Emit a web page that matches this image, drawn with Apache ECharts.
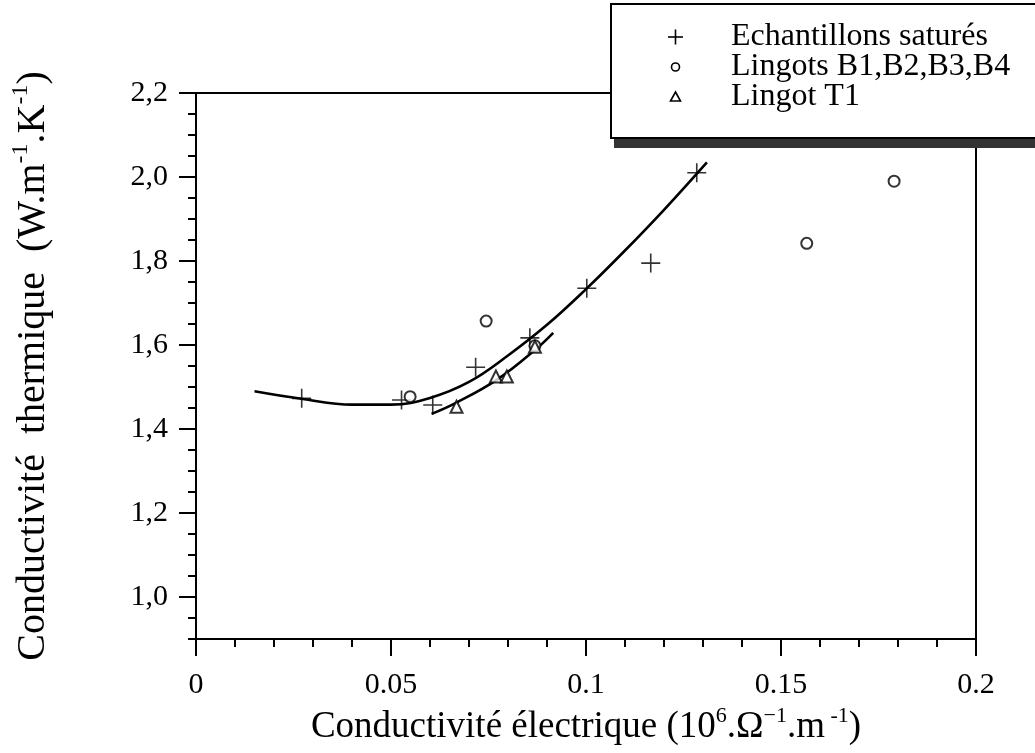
<!DOCTYPE html>
<html><head><meta charset="utf-8">
<script src="https://cdn.jsdelivr.net/npm/echarts@6/dist/echarts.min.js"></script>
<style>html,body{margin:0;padding:0;background:#fff}#c{width:1035px;height:753px}</style>
</head><body><div id="c"></div>
<script>
// ---- data ----
const seriesNames = ['Echantillons saturés', 'Lingots B1,B2,B3,B4', 'Lingot T1'];
const satuX = [0.0271, 0.0527, 0.0607, 0.0717, 0.0856, 0.1002, 0.1166, 0.1284];
const satuY = [1.473, 1.469, 1.457, 1.547, 1.617, 1.735, 1.795, 2.010];
const lingBX = [0.0549, 0.0744, 0.0869, 0.1566, 0.1790];
const lingBY = [1.477, 1.657, 1.598, 1.842, 1.990];
const lingTX = [0.0668, 0.0769, 0.0797, 0.0869];
const lingTY = [1.453, 1.525, 1.525, 1.596];
// fitted curves (traced)
const fitSatuX = [0.015, 0.027, 0.040, 0.050, 0.060, 0.070, 0.080, 0.090, 0.100, 0.110, 0.120, 0.131];
const fitSatuY = [1.490, 1.472, 1.458, 1.458, 1.474, 1.512, 1.575, 1.648, 1.733, 1.825, 1.922, 2.035];
const fitTX = [0.0604, 0.0668, 0.0771, 0.0869, 0.0916];
const fitTY = [1.436, 1.463, 1.517, 1.588, 1.629];
// ticks
const yLabelTicks = [1.0, 1.2, 1.4, 1.6, 1.8, 2.0, 2.2];
const yMinorTicks = [0.9,0.95,1.0,1.05,1.1,1.15,1.2,1.25,1.3,1.35,1.4,1.45,1.5,1.55,1.6,1.65,1.7,1.75,1.8,1.85,1.9,1.95,2.0,2.05,2.1,2.15,2.2];

const zip = (a, b) => a.map((v, i) => [v, b[i]]);
const FONT = 'Liberation Serif';
const black = '#000';

const chart = echarts.init(document.getElementById('c'), null, {renderer: 'canvas'});

const xN = {fontFamily: FONT, fontSize: 37, lineHeight: 44, color: black};
const xS = {fontFamily: FONT, fontSize: 22, lineHeight: 26, verticalAlign: 'top', color: black};
const yN = {fontFamily: FONT, fontSize: 40, lineHeight: 48, color: black};
const yS = {fontFamily: FONT, fontSize: 24, lineHeight: 28, verticalAlign: 'top', color: black};

const option = {
  backgroundColor: '#fff',
  animation: false,
  grid: {left: 196, right: 59, top: 93, bottom: 114, show: true, borderColor: black, borderWidth: 2, backgroundColor: 'transparent'},
  xAxis: {
    type: 'value', min: 0, max: 0.2, interval: 0.05,
    name: '{n|Conductivité électrique (10}{s|6}{n|.Ω}{s|−1}{n|.m}{s| -1}{n|)}',
    nameLocation: 'middle', nameGap: 64,
    nameTextStyle: {rich: {n: xN, s: xS}},
    axisLine: {lineStyle: {color: black, width: 2}},
    axisTick: {length: 17, lineStyle: {color: black, width: 2}},
    minorTick: {show: true, splitNumber: 5, length: 8, lineStyle: {color: black, width: 2}},
    axisLabel: {color: black, fontFamily: FONT, fontSize: 30, margin: 31},
    splitLine: {show: false}
  },
  yAxis: [{
    type: 'value', min: 0.9, max: 2.2,
    name: '{n|Conductivité  thermique  (W.m}{s|-1}{n|.K}{s|-1}{n|)}',
    nameLocation: 'middle', nameRotate: 90, nameGap: 139,
    nameTextStyle: {rich: {n: yN, s: yS}},
    axisLine: {lineStyle: {color: black, width: 2}},
    axisTick: {customValues: yLabelTicks, length: 17, lineStyle: {color: black, width: 2}},
    axisLabel: {customValues: yLabelTicks, color: black, fontFamily: FONT, fontSize: 30, margin: 28,
      formatter: v => v.toFixed(1).replace('.', ',')},
    splitLine: {show: false}
  }, {
    type: 'value', min: 0.9, max: 2.2, position: 'left',
    axisLine: {show: false},
    axisTick: {customValues: yMinorTicks, length: 8, lineStyle: {color: black, width: 2}},
    axisLabel: {show: false},
    splitLine: {show: false}
  }],
  series: [
    {type: 'line', data: zip(fitSatuX, fitSatuY), smooth: 0.4, showSymbol: false, symbol: 'none',
      lineStyle: {color: black, width: 2.6}, silent: true, z: 2},
    {type: 'line', data: zip(fitTX, fitTY), smooth: 0.4, showSymbol: false, symbol: 'none',
      lineStyle: {color: black, width: 2.6}, silent: true, z: 2},
    {name: seriesNames[0], type: 'scatter', data: zip(satuX, satuY),
      symbol: 'path://M0,10L20,10M10,0L10,20', symbolSize: 19,
      itemStyle: {color: 'none', borderColor: black, borderWidth: 1.6}, z: 3},
    {name: seriesNames[1], type: 'scatter', data: zip(lingBX, lingBY),
      symbol: 'emptyCircle', symbolSize: 11,
      itemStyle: {color: black, borderColor: black, borderWidth: 1.8}, z: 3},
    {name: seriesNames[2], type: 'scatter', data: zip(lingTX, lingTY),
      symbol: 'emptyTriangle', symbolSize: 12,
      itemStyle: {color: black, borderColor: black, borderWidth: 1.8}, z: 3}
  ],
  graphic: [
    {type: 'rect', z: 100, shape: {x: 614, y: 12, width: 440, height: 136}, style: {fill: '#333'}},
    {type: 'rect', z: 101, shape: {x: 611, y: 4, width: 440, height: 134}, style: {fill: '#fff', stroke: black, lineWidth: 2}},
    {type: 'line', z: 102, shape: {x1: 668, y1: 37, x2: 683, y2: 37}, style: {stroke: black, lineWidth: 1.6}},
    {type: 'line', z: 102, shape: {x1: 675.5, y1: 29.5, x2: 675.5, y2: 44.5}, style: {stroke: black, lineWidth: 1.6}},
    {type: 'circle', z: 102, shape: {cx: 675.5, cy: 67, r: 4}, style: {fill: '#fff', stroke: black, lineWidth: 1.6}},
    {type: 'polygon', z: 102, shape: {points: [[675.5, 92], [680.5, 101], [670.5, 101]]}, style: {fill: '#fff', stroke: black, lineWidth: 1.6}},
    {type: 'text', z: 102, x: 731, y: 37, style: {text: seriesNames[0], fontFamily: FONT, fontSize: 32, fill: black, verticalAlign: 'middle'}},
    {type: 'text', z: 102, x: 731, y: 67, style: {text: seriesNames[1], fontFamily: FONT, fontSize: 32, fill: black, verticalAlign: 'middle'}},
    {type: 'text', z: 102, x: 731, y: 97, style: {text: seriesNames[2], fontFamily: FONT, fontSize: 32, fill: black, verticalAlign: 'middle'}}
  ]
};
chart.setOption(option);
</script>
</body></html>
